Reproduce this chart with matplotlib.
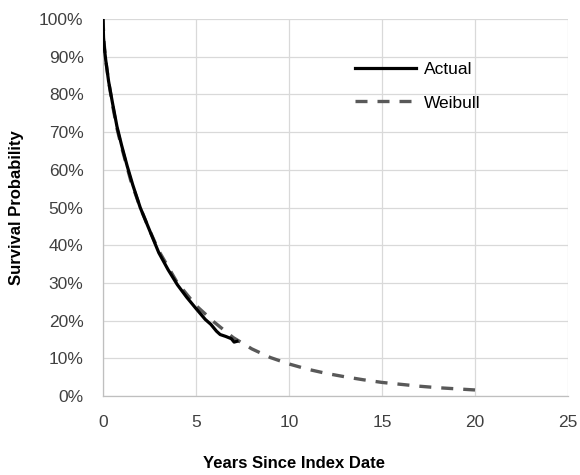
import matplotlib.pyplot as plt
from matplotlib.ticker import PercentFormatter

plt.rcParams['font.family'] = ['Liberation Sans', 'DejaVu Sans']

actual_t = [0, 0.03, 0.08, 0.15, 0.3, 0.5, 0.75, 1.0, 1.3, 1.6, 2.0, 2.5,
            3.0, 3.5, 4.0, 4.5, 5.0, 5.5, 5.8, 6.1, 6.3, 6.6, 6.9, 7.05, 7.2]
actual_s = [1.0, 0.95, 0.92, 0.89, 0.835, 0.78, 0.715, 0.665, 0.61, 0.56,
            0.50, 0.44, 0.38, 0.335, 0.295, 0.262, 0.232, 0.203, 0.19,
            0.172, 0.163, 0.158, 0.152, 0.143, 0.145]

# fitted Weibull curve
weib_t = [0, 0.05, 0.15, 0.3, 0.5, 0.75, 1, 1.5, 2, 2.5, 3, 4, 5, 6, 7, 8,
          9, 10, 11, 12, 13, 14, 15, 16, 17, 18, 19, 20]
weib_s = [1.0, 0.94, 0.89, 0.835, 0.775, 0.71, 0.66, 0.57, 0.50, 0.44,
          0.385, 0.30, 0.24, 0.195, 0.155, 0.125, 0.102, 0.085, 0.071, 0.06,
          0.051, 0.043, 0.036, 0.031, 0.026, 0.022, 0.019, 0.016]

W, H = 580, 475
fig = plt.figure(figsize=(W / 100, H / 100), dpi=100)
ax = fig.add_axes([103 / W, 1 - 396 / H, 465 / W, 377 / H])

ax.plot(weib_t, weib_s, color='#595959', lw=2.4, ls=(0, (3.6, 3.0)),
        label='Weibull', zorder=3)
ax.plot(actual_t, actual_s, color='black', lw=2.3, label='Actual', zorder=4)

ax.set_xlim(0, 25)
ax.set_ylim(0, 1)
ax.set_xticks(range(0, 26, 5))
ax.set_yticks([i / 10 for i in range(11)])
ax.yaxis.set_major_formatter(PercentFormatter(1.0, decimals=0))
ax.grid(True, color='#d9d9d9', lw=0.9)
ax.set_axisbelow(True)

for s in ['top', 'right']:
    ax.spines[s].set_visible(False)
for s in ['left', 'bottom']:
    ax.spines[s].set_color('#bfbfbf')
    ax.spines[s].set_linewidth(0.9)
ax.tick_params(length=0, labelsize=12.5, colors='#404040')
ax.tick_params(axis='y', pad=14)
ax.tick_params(axis='x', pad=14)

fig.text(294 / W, 1 - 464 / H, 'Years Since Index Date', fontsize=12,
         fontweight='bold', ha='center', va='center')
fig.text(17 / W, 1 - 208 / H, 'Survival Probability', fontsize=12,
         fontweight='bold', ha='center', va='center', rotation=90)

handles, labels = ax.get_legend_handles_labels()
ax.legend(handles[::-1], labels[::-1], loc='upper left',
          bbox_to_anchor=(355 / W, 1 - 62 / H), bbox_transform=fig.transFigure,
          frameon=False, fontsize=12.5, borderpad=0, borderaxespad=0,
          handlelength=3.5, labelspacing=1.05, handletextpad=0.45)

fig.savefig('out.png', dpi=100)
